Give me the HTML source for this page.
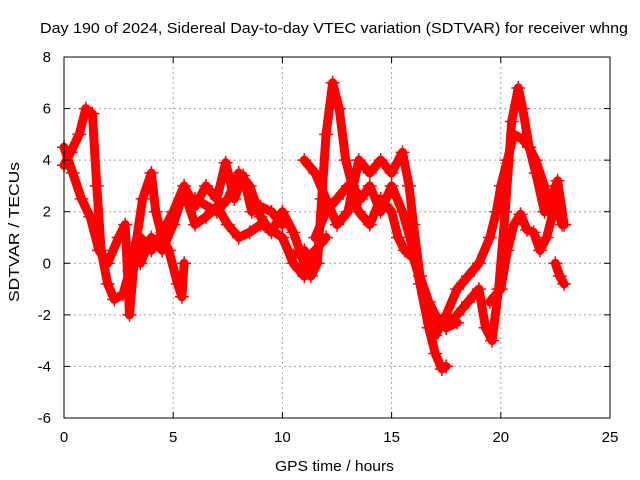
<!DOCTYPE html>
<html><head><meta charset="utf-8"><style>
body{margin:0;background:#fff;}
svg{display:block;font-family:"Liberation Sans",sans-serif;}
</style></head><body>
<svg id="chart" width="640" height="480">
<text x="40" y="33" font-size="15" textLength="588" lengthAdjust="spacingAndGlyphs">Day 190 of 2024, Sidereal Day-to-day VTEC variation (SDTVAR) for receiver whng</text>
<text x="275" y="471" font-size="15" textLength="119" lengthAdjust="spacingAndGlyphs">GPS time / hours</text>
<text x="0" y="0" font-size="15" textLength="140" lengthAdjust="spacingAndGlyphs" transform="translate(19 302) rotate(-90)">SDTVAR / TECUs</text>
<g id="grid"></g><g id="marks"></g>
<rect x="64" y="57" width="546" height="361" fill="none" stroke="#000" stroke-width="1"/>
<g id="ticks"></g>
</svg>
<script>
const xTicks=[0,5,10,15,20,25];
const yTicks=[-6,-4,-2,0,2,4,6,8];
const t1x=[0,0.3,0.7,1.0,1.3,1.5,1.7,2.0,2.3,2.7,3.0,3.3,3.6,4.0,4.2,4.5,4.8,5.2,5.4,5.5];
const t1y=[3.8,4.3,5.0,6.0,5.8,3.0,0.5,-0.8,-1.4,-1.2,-0.3,0.8,2.5,3.5,2.0,1.0,0.5,-0.8,-1.3,0];
const t2x=[0,0.4,0.8,1.2,1.6,2.0,2.5,2.8,3.0,3.2,3.5,4.0,4.5,5.0,5.5,6.0,6.5,7.0,7.4,7.8,8.2,8.6,9.0,9.5,10];
const t2y=[4.5,3.5,2.5,1.8,0.5,0,1,1.5,-2,0,1,0.5,1.2,2,3,2.2,3.0,2.5,3.9,2.5,3.4,2.0,2.2,2.0,1.5];
const t3x=[3.5,4,4.5,5,5.5,6,6.5,7,7.5,8,8.5,9,9.5,10,10.5,11,11.3,11.6];
const t3y=[0,1,0.5,1.5,2.8,1.5,1.8,2.2,1.5,1.0,1.2,1.5,1.3,1.0,0,-0.5,0.3,0];
const t4x=[6,7,7.5,8,8.5,9,9.5,10,10.5,11,11.5,12];
const t4y=[2.5,2.0,2.5,3.5,3.0,1.8,1.2,2.0,1.2,0,0.5,1];
const t5x=[10.5,11,11.3,11.6,11.8,12,12.3,12.6,12.9,13.2,13.6,14,14.5,15,15.5,16,16.3,16.7,17,17.3,17.5];
const t5y=[0.3,0.5,-0.5,0,2.5,5,7.0,6.0,4.0,3.0,2.5,3.0,2.0,3.0,2.0,0.5,-0.8,-2.5,-3.5,-4.1,-4.0];
const t6x=[11,11.5,12,12.5,13,13.5,14,14.5,15,15.5,15.8,16,16.3,16.7,17,17.5,18];
const t6y=[4,3.5,2.5,1.5,2,4,3.5,4.0,3.5,4.3,3.0,1.5,-0.5,-1.5,-2,-2.5,-2.3];
const t7x=[11.5,12,12.5,13,13.5,14,14.5,15,15.3,15.6,16,16.5,17,17.5,18,18.5,19,19.3,19.6,19.9,20.2,20.5,20.8,21,21.3,21.6,22,22.2,22.5,22.8];
const t7y=[1,2,2.5,3.0,2.0,1.5,2.5,2.0,1.0,0.5,0.2,-1.2,-2.3,-2.5,-2,-1.5,-1,-2.5,-3.0,-1.0,2.0,5.5,6.8,6.0,4.5,4,3,2,2.5,1.5];
const t8x=[17,17.5,18,18.5,19,19.5,19.8,20,20.3,20.6,21,21.3,21.6,22,22.3,22.6,22.9];
const t8y=[-2.8,-2.0,-1,-0.5,0,1,2,3,4,5.0,4.8,4.5,3.5,2.0,2.5,3.2,1.5];
const t9x=[19.5,20,20.3,20.6,20.9,21.2,21.5,21.8,22.1,22.4,22.7,22.9];
const t9y=[-1.5,-1,0.5,1.5,1.9,1.3,1.2,0.5,1.0,2.0,1.8,1.5];
const t10x=[22.5,22.7,22.9];
const t10y=[0,-0.5,-0.8];
const series=[[t1x,t1y],[t2x,t2y],[t3x,t3y],[t4x,t4y],[t5x,t5y],[t6x,t6y],[t7x,t7y],[t8x,t8y],[t9x,t9y],[t10x,t10y]];
const X0=64,X1=610,Y0=418,Y1=57;
function sx(v){return X0+(v-0)/25*(X1-X0);}
function sy(v){return Y0-(v+6)/14*(Y0-Y1);}
const NS="http://www.w3.org/2000/svg";
const grid=document.getElementById('grid'),marks=document.getElementById('marks'),ticks=document.getElementById('ticks');
function mk(tag,attrs,parent){const e=document.createElementNS(NS,tag);for(const k in attrs)e.setAttribute(k,attrs[k]);parent.appendChild(e);return e;}
xTicks.forEach(v=>{
  const x=sx(v);
  if(v>0&&v<25){const g=mk('line',{x1:x,x2:x,y1:Y1,y2:Y0,stroke:'#a0a0a0','stroke-dasharray':'2,3'},grid);
  
  }
  const t=mk('line',{x1:x,x2:x,y1:Y0,y2:Y0-6,stroke:'#000'},ticks);
  
  
  const t2=mk('line',{x1:x,x2:x,y1:Y1,y2:Y1+6,stroke:'#000'},ticks);
  
  
  const l=mk('text',{x:x,y:Y0+24,'font-size':15,'text-anchor':'middle'},ticks);l.textContent=v;
  
  
});
yTicks.forEach(v=>{
  const y=sy(v);
  if(v>-6&&v<8){const g=mk('line',{x1:X0,x2:X1,y1:y,y2:y,stroke:'#a0a0a0','stroke-dasharray':'2,3'},grid);
  
  }
  const t=mk('line',{x1:X0,x2:X0+6,y1:y,y2:y,stroke:'#000'},ticks);
  
  
  const t2=mk('line',{x1:X1,x2:X1-6,y1:y,y2:y,stroke:'#000'},ticks);
  
  
  const l=mk('text',{x:X0-13,y:y+5,'font-size':15,'text-anchor':'end'},ticks);l.textContent=v;
  
  
});
series.forEach((s,i)=>{
  const xs=s[0],ys=s[1];
  const pts=xs.map((v,j)=>sx(v)+','+sy(ys[j])).join(' ');
  const pl=mk('polyline',{points:pts,fill:'none',stroke:'#ff0000','stroke-width':9,'stroke-linejoin':'round','stroke-linecap':'round'},marks);
  
  
  xs.forEach((v,j)=>{
    const x=sx(v),y=sy(ys[j]);
    const p=mk('path',{d:`M${x-7},${y}H${x+7}M${x},${y-7}V${y+7}`,stroke:'#ff0000','stroke-width':1.5},marks);
    
    
  });
});
</script>
</body></html>
